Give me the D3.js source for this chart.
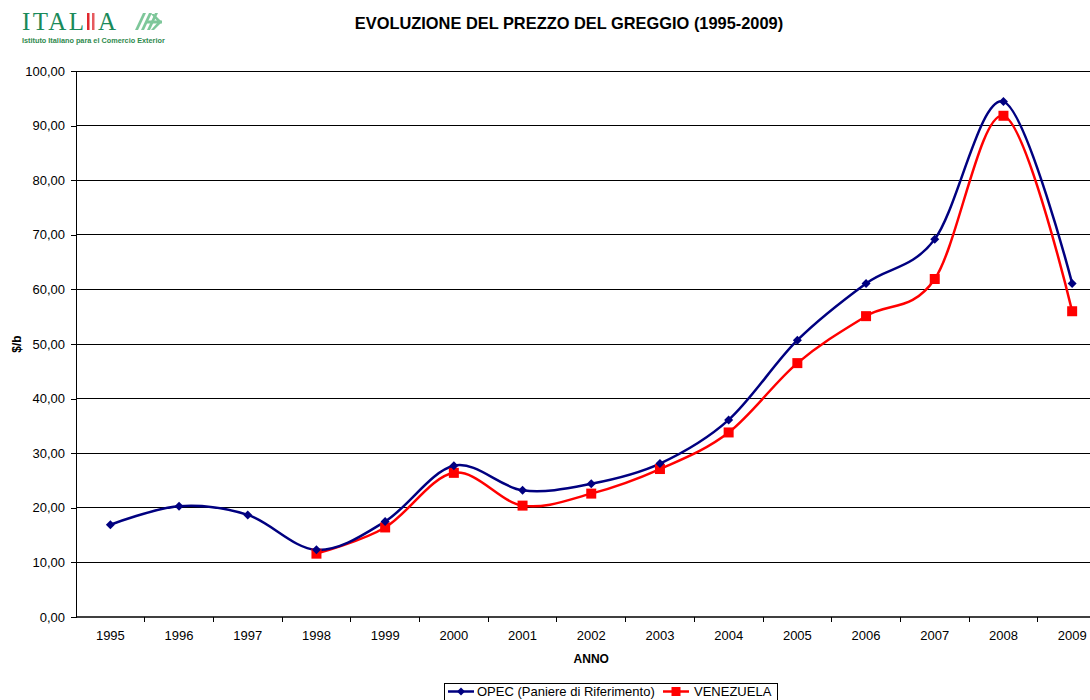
<!DOCTYPE html>
<html>
<head>
<meta charset="utf-8">
<script src="https://cdn.jsdelivr.net/npm/d3@7"></script>
<style>
  body { margin: 0; background: #fff; }
  svg { display: block; font-family: "Liberation Sans", Arial, sans-serif; }
</style>
</head>
<body>
<div id="chart"></div>
<script>
const years = ["1995","1996","1997","1998","1999","2000","2001","2002","2003","2004","2005","2006","2007","2008","2009"];
const opec = [16.9, 20.3, 18.7, 12.3, 17.5, 27.7, 23.2, 24.4, 28.1, 36.1, 50.7, 61.1, 69.2, 94.4, 61.1];
const venezuela = [null, null, null, 11.6, 16.4, 26.4, 20.4, 22.6, 27.1, 33.8, 46.5, 55.1, 61.9, 91.8, 56.0];
const yTicks = [0, 10, 20, 30, 40, 50, 60, 70, 80, 90, 100];

const fullwidth = 1090, fullheight = 700;
const plotLeft = 76, plotTop = 71, plotBottom = 617;
const step = 68.7;

const svg = d3.select("#chart").append("svg")
  .attr("width", fullwidth)
  .attr("height", fullheight);

// logo
const logo = svg.append("g").attr("class", "logo");
const serif = "'Liberation Serif', 'DejaVu Serif', serif";
logo.append("text")
  .attr("x", 22).attr("y", 30)
  .attr("textLength", 62).attr("lengthAdjust", "spacing")
  .style("font-family", serif).style("font-size", "25px")
  .attr("fill", "#1a8a5a")
  .text("ITAL");
logo.append("rect").attr("x", 87).attr("y", 13).attr("width", 2.5).attr("height", 17).attr("fill", "#e0282e");
logo.append("rect").attr("x", 92).attr("y", 13).attr("width", 2.5).attr("height", 17).attr("fill", "#e65a5e");
logo.append("text")
  .attr("x", 98).attr("y", 30)
  .style("font-family", serif).style("font-size", "25px")
  .attr("fill", "#1a8a5a")
  .text("A");
logo.append("text")
  .attr("x", 22).attr("y", 43)
  .style("font-size", "7.3px")
  .style("font-weight", "bold")
  .attr("fill", "#2f8a4e")
  .text("Istituto Italiano para el Comercio Exterior");
// arrow mark
const mark = logo.append("g").attr("fill", "#7ec79a");
[135, 141, 147].forEach(xm => {
  mark.append("path").attr("d", `M${xm},30 L${xm + 8},13 L${xm + 11},13 L${xm + 3},30 Z`);
});
mark.append("path").attr("d", "M146,20.5 L162,20.5 L162,23.5 L146,23.5 Z");
mark.append("path").attr("d", "M154,14 L162,22 L154,30 L151,30 L158,22 L151,14 Z");

// title
svg.append("text")
  .attr("x", 569).attr("y", 29)
  .attr("text-anchor", "middle")
  .style("font-size", "16.4px")
  .style("font-weight", "bold")
  .text("EVOLUZIONE DEL PREZZO DEL GREGGIO (1995-2009)");

const x = d3.scaleBand().domain(years).range([plotLeft, plotLeft + step * years.length]);
const y = d3.scaleLinear().domain([0, 100]).range([plotBottom, plotTop]);
const cx = d => x(d) + x.bandwidth() / 2;

// gridlines
svg.append("g")
  .selectAll("line")
  .data(yTicks.filter(d => d > 0))
  .join("line")
  .attr("x1", plotLeft).attr("x2", fullwidth)
  .attr("y1", d => y(d)).attr("y2", d => y(d))
  .attr("stroke", "#000").attr("stroke-width", 1)
  .attr("shape-rendering", "crispEdges");

// y axis
const yAxis = svg.append("g")
  .attr("transform", `translate(${plotLeft},0)`)
  .call(d3.axisLeft(y).tickValues(yTicks).tickSize(5).tickPadding(6)
    .tickFormat(d => d3.format(".2f")(d).replace(".", ",")));
yAxis.select(".domain").attr("stroke", "#000").attr("shape-rendering", "crispEdges");
yAxis.selectAll("line").attr("shape-rendering", "crispEdges");
yAxis.selectAll("text").style("font-size", "13px").attr("fill", "#000")
  .style("font-family", "'Liberation Sans', Arial, sans-serif");

// x axis
const xAxis = svg.append("g")
  .attr("transform", `translate(0,${plotBottom})`)
  .call(d3.axisBottom(x).tickSize(0).tickPadding(14));
xAxis.select(".domain").attr("stroke", "#000").attr("stroke-width", 1.5).attr("d", `M${plotLeft},0H${fullwidth}`);
xAxis.selectAll("text").style("font-size", "13px").attr("fill", "#000")
  .style("font-family", "'Liberation Sans', Arial, sans-serif");
xAxis.selectAll(".boundary")
  .data(years)
  .join("line")
  .attr("class", "boundary")
  .attr("x1", d => x(d) + x.bandwidth()).attr("x2", d => x(d) + x.bandwidth())
  .attr("y1", 0).attr("y2", 5)
  .attr("stroke", "#000")
  .attr("shape-rendering", "crispEdges");

// axis titles
svg.append("text")
  .attr("x", cx("2002")).attr("y", 663)
  .attr("text-anchor", "middle")
  .style("font-size", "12px").style("font-weight", "bold")
  .text("ANNO");
svg.append("text")
  .attr("transform", `translate(21,${(plotTop + plotBottom) / 2}) rotate(-90)`)
  .attr("text-anchor", "middle")
  .style("font-size", "12px").style("font-weight", "bold")
  .text("$/b");

// series
const series = [
  { name: "OPEC (Paniere di Riferimento)", values: opec, color: "#000080", marker: "diamond" },
  { name: "VENEZUELA", values: venezuela, color: "#ff0000", marker: "square" }
];

const line = d3.line()
  .defined(d => d.v != null)
  .x(d => cx(d.year))
  .y(d => y(d.v))
  .curve(d3.curveCardinal.tension(0));

const diamond = s => `M0,${-s}L${s},0L0,${s}L${-s},0Z`;
const square = s => `M${-s},${-s}H${s}V${s}H${-s}Z`;

// draw venezuela first so opec sits on top where they overlap
series.slice().reverse().forEach(s => {
  const pts = years.map((year, i) => ({ year, v: s.values[i] }));
  svg.append("path")
    .datum(pts)
    .attr("fill", "none")
    .attr("stroke", s.color)
    .attr("stroke-width", 2.5)
    .attr("d", line);
});
series.slice().reverse().forEach(s => {
  const pts = years.map((year, i) => ({ year, v: s.values[i] })).filter(d => d.v != null);
  svg.append("g")
    .selectAll("path")
    .data(pts)
    .join("path")
    .attr("transform", d => `translate(${cx(d.year)},${y(d.v)})`)
    .attr("d", s.marker === "diamond" ? diamond(4.5) : square(5))
    .attr("fill", s.color);
});

// legend
const legend = svg.append("g").attr("class", "legend");
legend.append("rect")
  .attr("x", 444.5).attr("y", 683.5)
  .attr("width", 333).attr("height", 30)
  .attr("fill", "#fff").attr("stroke", "#000");
const items = [
  { s: series[0], x0: 448, tx: 477 },
  { s: series[1], x0: 663, tx: 694 }
];
items.forEach(({ s, x0, tx }) => {
  legend.append("line")
    .attr("x1", x0).attr("x2", x0 + 26)
    .attr("y1", 691.5).attr("y2", 691.5)
    .attr("stroke", s.color).attr("stroke-width", 2.5);
  legend.append("path")
    .attr("transform", `translate(${x0 + 13},691.5)`)
    .attr("d", s.marker === "diamond" ? diamond(4) : square(4.5))
    .attr("fill", s.color);
  legend.append("text")
    .attr("x", tx).attr("y", 696)
    .style("font-size", "13px")
    .text(s.name);
});
</script>
</body>
</html>
